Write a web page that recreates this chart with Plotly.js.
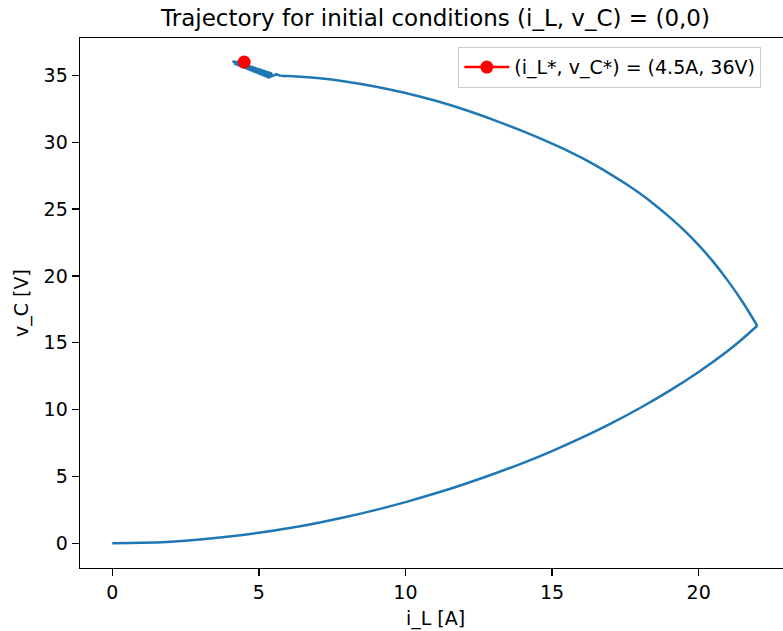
<!DOCTYPE html>
<html>
<head>
<meta charset="utf-8">
<script src="https://cdn.plot.ly/plotly-3.0.1.min.js"></script>
<style>
  html, body { margin: 0; padding: 0; overflow: hidden; background: #fff; }
  #chart { width: 792px; height: 631px; }
</style>
</head>
<body>
<div id="chart"></div>
<script>
// Switch-on interval: inductor charging from the origin
const iLCharge = [0, 1, 2, 3, 4, 5, 6, 7, 8, 9, 10, 11, 12, 13, 14, 15, 16, 17, 18, 19, 20, 21, 21.5, 22.0];
const vCCharge = [0, 0.03, 0.12, 0.28, 0.5, 0.78, 1.12, 1.52, 1.98, 2.5, 3.08, 3.72, 4.42, 5.18, 6.0, 6.9, 7.88, 8.95, 10.12, 11.4, 12.82, 14.4, 15.3, 16.27];

// Switch-off interval: current falls while the capacitor keeps charging
const iLDischarge = [22.0, 21.5, 21.0, 20.5, 20.0, 19.5, 19.0, 18.5, 18.0, 17.5, 17.0, 16.5, 16.0, 15.5, 15.0,
                     14.0, 13.0, 12.0, 11.0, 10.0, 9.0, 8.0, 7.0, 6.0, 5.73];
const vCDischarge = [16.27, 18.05, 19.63, 21.05, 22.3, 23.42, 24.42, 25.33, 26.16, 26.91, 27.6, 28.25, 28.85, 29.4, 29.9,
                     30.83, 31.68, 32.45, 33.12, 33.69, 34.16, 34.53, 34.8, 34.95, 34.97];

// Switching ripple settling towards the equilibrium
const iLRipple = [5.73, 5.60,
  5.30, 5.45, 5.25, 5.40, 5.20, 5.35, 5.15, 5.30, 5.10, 5.25, 5.05, 5.20, 5.00, 5.15, 4.95, 5.10,
  4.90, 5.05, 4.85, 5.00, 4.80, 4.95, 4.75, 4.90, 4.70, 4.85, 4.65, 4.80, 4.60, 4.75, 4.55, 4.70,
  4.50, 4.65, 4.45, 4.60, 4.40, 4.55, 4.35, 4.50, 4.30, 4.45, 4.25, 4.40, 4.20, 4.35, 4.15, 4.30,
  4.10, 4.40];
const vCRipple = [34.97, 35.09,
  34.82, 35.20, 34.86, 35.23, 34.91, 35.27, 34.95, 35.30, 35.00, 35.34, 35.04, 35.38, 35.09, 35.41, 35.13, 35.45,
  35.18, 35.48, 35.22, 35.52, 35.27, 35.55, 35.31, 35.59, 35.36, 35.62, 35.40, 35.66, 35.45, 35.69, 35.49, 35.73,
  35.54, 35.77, 35.58, 35.80, 35.63, 35.84, 35.67, 35.87, 35.72, 35.91, 35.76, 35.94, 35.81, 35.98, 35.85, 36.01,
  36.02, 35.98];

// Equilibrium point
const iLStar = [4.5];
const vCStar = [36];
const starLabel = '(i_L*, v_C*) = (4.5A, 36V)';

const blue = '#1f77b4';
const font = 'DejaVu Sans, Arial, sans-serif';

const traces = [
  { x: iLCharge, y: vCCharge, mode: 'lines', line: { color: blue, width: 2.5, shape: 'spline', smoothing: 0.8 }, showlegend: false, hoverinfo: 'skip' },
  { x: iLDischarge, y: vCDischarge, mode: 'lines', line: { color: blue, width: 2.5, shape: 'spline', smoothing: 0.8 }, showlegend: false, hoverinfo: 'skip' },
  { x: iLRipple, y: vCRipple, mode: 'lines', line: { color: blue, width: 2.5 }, showlegend: false, hoverinfo: 'skip' },
  { x: iLStar, y: vCStar, mode: 'lines+markers', name: starLabel,
    line: { color: '#ff0000', width: 2.5 }, marker: { color: '#ff0000', size: 13 } }
];

const axisCommon = {
  showgrid: false, zeroline: false, showline: true, mirror: true,
  linecolor: '#000', linewidth: 1.4, ticks: 'outside', ticklen: 7, tickwidth: 1.4, tickcolor: '#000',
  tickfont: { family: font, size: 19, color: '#000' }
};

const layout = {
  width: 792, height: 631,
  margin: { l: 80, r: 1, t: 38, b: 63 },
  paper_bgcolor: '#fff', plot_bgcolor: '#fff',
  title: { text: 'Trajectory for initial conditions (i_L, v_C) = (0,0)',
           font: { family: font, size: 23, color: '#000' },
           xref: 'paper', x: 0.5, xanchor: 'center', yref: 'container', y: 0.972, yanchor: 'middle' },
  xaxis: Object.assign({}, axisCommon, {
    range: [-1.1, 23.15], tickvals: [0, 5, 10, 15, 20],
    title: { text: 'i_L [A]', font: { family: font, size: 19, color: '#000' }, standoff: 9 }
  }),
  yaxis: Object.assign({}, axisCommon, {
    range: [-1.85, 37.8], tickvals: [0, 5, 10, 15, 20, 25, 30, 35],
    title: { text: 'v_C [V]', font: { family: font, size: 19, color: '#000' }, standoff: 10 }
  }),
  legend: { x: 0.958, xanchor: 'right', y: 0.983, yanchor: 'top', itemwidth: 45,
            bgcolor: '#fff', bordercolor: '#cccccc', borderwidth: 1.2,
            font: { family: font, size: 19, color: '#000' } },
  showlegend: true
};

Plotly.newPlot('chart', traces, layout, { displayModeBar: false, staticPlot: true });
</script>
</body>
</html>
